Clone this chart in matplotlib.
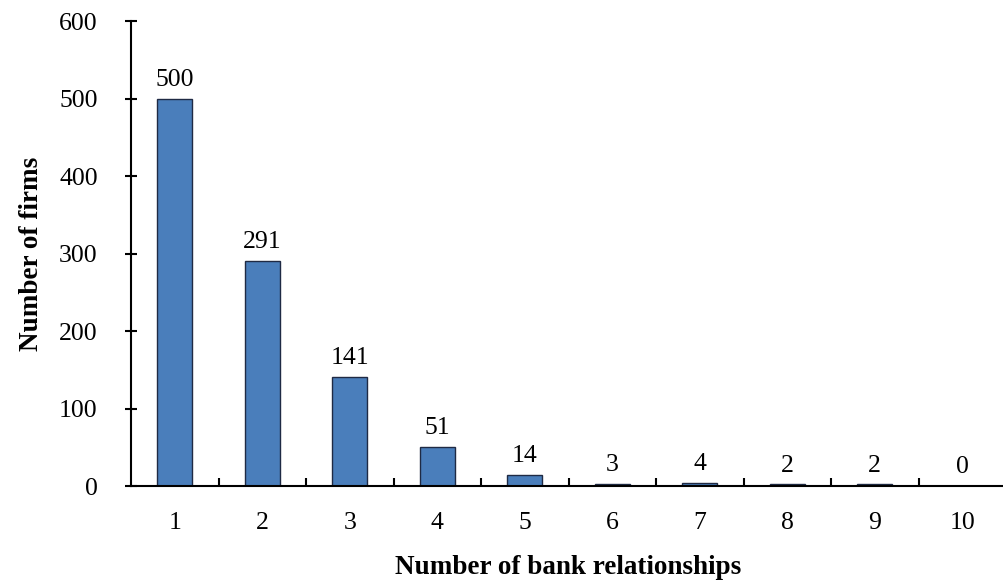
import numpy as np
import matplotlib.pyplot as plt

# firms by number of bank relationships
relationships = ['1', '2', '3', '4', '5', '6', '7', '8', '9', '10']
firms = [500, 291, 141, 51, 14, 3, 4, 2, 2, 0]

plt.rcParams['font.family'] = ['Liberation Serif', 'DejaVu Serif']

fig = plt.figure(figsize=(10.04, 5.86), dpi=100)
ax = fig.add_axes([0.1305, 0.1706, 0.8715, 0.7935])

x = np.arange(len(relationships))
ax.bar(x, firms, width=0.4, color='#4A7EBB', edgecolor='#1F2A44', linewidth=1.0)

for xi, v in zip(x, firms):
    ax.text(xi, v + 10, str(v), ha='center', va='bottom', fontsize=18.5)

ax.set_xlim(-0.5, len(relationships) - 0.5)
ax.set_ylim(0, 600)
ax.set_yticks(np.arange(0, 601, 100))

# category labels under the bars, tick marks on the category boundaries
ax.set_xticks(x)
ax.set_xticklabels(relationships, fontsize=18.5)
ax.tick_params(axis='x', which='major', length=0, pad=19)
ax.set_xticks(np.arange(0.5, len(relationships), 1.0), minor=True)
ax.tick_params(axis='x', which='minor', direction='in', length=6, width=1.5)
ax.tick_params(axis='y', direction='inout', length=8, width=1.5, labelsize=18.5, pad=20)

for side in ['top', 'right']:
    ax.spines[side].set_visible(False)
for side in ['left', 'bottom']:
    ax.spines[side].set_linewidth(1.5)

ax.set_xlabel('Number of bank relationships', fontsize=19.5, fontweight='bold', labelpad=15)
ax.set_ylabel('Number of firms', fontsize=19.5, fontweight='bold', labelpad=11)

fig.savefig('out.png', dpi=100)
